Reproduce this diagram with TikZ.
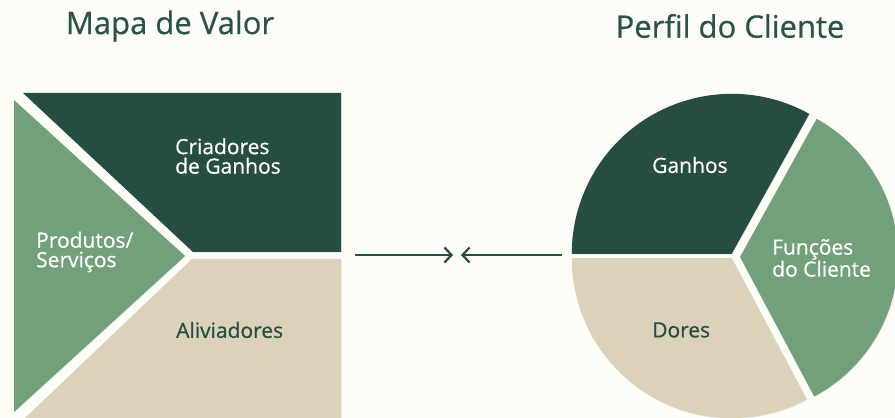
\documentclass[tikz,border=0pt]{standalone}
\usepackage{fontspec}
\setmainfont{Open Sans}[FakeBold=0.6, AutoFakeBold=0.6]
\usetikzlibrary{arrows.meta,shadows,calc}
\definecolor{bgc}{HTML}{FDFDF8}
\definecolor{darkg}{HTML}{264D42}
\definecolor{midg}{HTML}{72A07A}
\definecolor{sand}{HTML}{DCD2BA}
\definecolor{titlec}{HTML}{2B5446}
\tikzset{
  piece/.style={draw=none, drop shadow={opacity=0.12, shadow xshift=0.8pt, shadow yshift=-0.8pt}},
  lbl/.style={font=\fontsize{21}{19.5}\selectfont\bfseries, align=left, inner sep=0pt},
  title/.style={font=\fontsize{31}{31}\selectfont\bfseries, text=titlec, inner sep=0pt},
  link/.style={draw=darkg, line width=2pt, -{Straight Barb[length=7pt,width=15pt,line width=2.2pt]}}
}
\begin{document}
\begin{tikzpicture}[x=1pt,y=1pt]
\useasboundingbox (0,0) rectangle (895,418);
\fill[bgc] (0,0) rectangle (895,418);

% Value map: square split into three pieces
\fill[darkg, piece] (23,325) -- (341,325) -- (341,166) -- (193,166) -- cycle;
\fill[sand, piece] (192,159) -- (341,159) -- (341,0) -- (25,0) -- cycle;
\fill[midg, piece] (14,318) -- (185,162) -- (14,6) -- cycle;

% Customer profile: circle split into three sectors
\fill[darkg, piece] ($(733,162)+(120:2.5)$) coordinate (g0) -- ++(61:160) arc[start angle=61, end angle=180, radius=160] -- cycle;
\fill[sand, piece] ($(733,162)+(240:2.5)$) coordinate (d0) -- ++(180:160) arc[start angle=180, end angle=298, radius=160] -- cycle;
\fill[midg, piece] (740,161) coordinate (f0) -- ++(-62:158) arc[start angle=-62, end angle=61, radius=158] -- cycle;

% Labels
\node[lbl, text=white, anchor=west] (cg) at (175,262) {Criadores\\de Ganhos};
\node[lbl, text=white, anchor=west] (ps) at (36,166) {Produtos/\\Serviços};
\node[lbl, text=darkg, anchor=west] (al) at (176,88) {Aliviadores};
\node[lbl, text=white, anchor=west] (ga) at (652,253) {Ganhos};
\node[lbl, text=white, anchor=west] (fc) at (772,160) {Funções\\do Cliente};
\node[lbl, text=darkg, anchor=west] (do) at (652,88) {Dores};

% Titles
\node[title] (mv) at (170,392) {Mapa de Valor};
\node[title] (pc) at (730,392) {Perfil do Cliente};

% Fit arrows between the two halves
\coordinate (la) at (355,163);
\coordinate (lb) at (453,163);
\coordinate (ra) at (562,163);
\coordinate (rb) at (461,163);
\draw[link] (la) -- (lb);
\draw[link] (ra) -- (rb);
\end{tikzpicture}
\end{document}
